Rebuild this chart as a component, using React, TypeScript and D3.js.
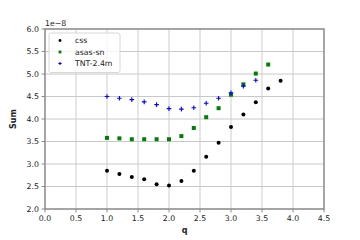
import React from "react";
import * as d3 from "d3";

const qCss = [1.0, 1.2, 1.4, 1.6, 1.8, 2.0, 2.2, 2.4, 2.6, 2.8, 3.0, 3.2, 3.4, 3.6, 3.8];
const css = [2.85, 2.78, 2.71, 2.66, 2.55, 2.52, 2.62, 2.85, 3.16, 3.47, 3.82, 4.1, 4.37, 4.68, 4.85];

const qAsas = [1.0, 1.2, 1.4, 1.6, 1.8, 2.0, 2.2, 2.4, 2.6, 2.8, 3.0, 3.2, 3.4, 3.6];
const asas = [3.58, 3.57, 3.55, 3.55, 3.55, 3.55, 3.62, 3.8, 4.04, 4.24, 4.54, 4.77, 5.01, 5.21];

const qTnt = [1.0, 1.2, 1.4, 1.6, 1.8, 2.0, 2.2, 2.4, 2.6, 2.8, 3.0, 3.2, 3.4];
const tnt = [4.5, 4.46, 4.43, 4.38, 4.32, 4.23, 4.22, 4.25, 4.35, 4.46, 4.58, 4.73, 4.86];

const xTicks = [0, 0.5, 1, 1.5, 2, 2.5, 3, 3.5, 4, 4.5];
const yTicks = [2, 2.5, 3, 3.5, 4, 4.5, 5, 5.5, 6];
const seriesNames = ["css", "asas-sn", "TNT-2.4m"];

const W = 360;
const H = 240;
const left = 45;
const right = 324;
const top = 29;
const bottom = 209;
const font = "DejaVu Sans, sans-serif";

function Marker({ kind, x, y, s = 1 }: { kind: number; x: number; y: number; s?: number }) {
  if (kind === 0) return <circle cx={x} cy={y} r={2 * s} fill="#000" />;
  if (kind === 1)
    return <rect x={x - 2 * s} y={y - 2 * s} width={4 * s} height={4 * s} fill="#008000" />;
  const h = 2.3 * s;
  return (
    <path
      d={`M${x - h},${y}H${x + h}M${x},${y - h}V${y + h}`}
      stroke="#0000ff"
      strokeWidth={1.1}
    />
  );
}

export default function App() {
  const x = d3.scaleLinear().domain([0, 4.5]).range([left, right]);
  const y = d3.scaleLinear().domain([2, 6]).range([bottom, top]);
  const fmt = d3.format(".1f");

  const series = [
    { q: qCss, v: css },
    { q: qAsas, v: asas },
    { q: qTnt, v: tnt },
  ];

  return (
    <svg
      width={W}
      height={H}
      style={{ position: "absolute", left: 0, top: 0, background: "#fff" }}
      fontFamily={font}
    >
      <rect x={0} y={0} width={W} height={H} fill="#fff" />
      {xTicks.map((t) => (
        <line key={"gx" + t} x1={x(t)} x2={x(t)} y1={top} y2={bottom} stroke="#dcdcdc" strokeWidth={1.4} />
      ))}
      {yTicks.map((t) => (
        <line key={"gy" + t} x1={left} x2={right} y1={y(t)} y2={y(t)} stroke="#c8c8c8" strokeWidth={1} />
      ))}
      {series.map((s, k) =>
        s.q.map((q, i) => <Marker key={k + "-" + i} kind={k} x={x(q)} y={y(s.v[i])} />)
      )}
      <rect
        x={left}
        y={top}
        width={right - left}
        height={bottom - top}
        fill="none"
        stroke="#8a8a8a"
        strokeWidth={1.4}
      />
      {xTicks.map((t) => (
        <g key={"tx" + t}>
          <line x1={x(t)} x2={x(t)} y1={bottom} y2={bottom + 3.5} stroke="#8a8a8a" />
          <text x={x(t)} y={bottom + 12} fontSize={7.8} textAnchor="middle" fill="#222">
            {fmt(t)}
          </text>
        </g>
      ))}
      {yTicks.map((t) => (
        <g key={"ty" + t}>
          <line x1={left - 3.5} x2={left} y1={y(t)} y2={y(t)} stroke="#8a8a8a" />
          <text x={left - 6} y={y(t) + 2.8} fontSize={7.8} textAnchor="end" fill="#222">
            {fmt(t)}
          </text>
        </g>
      ))}
      <text x={left} y={top - 3} fontSize={7.8} fill="#222">
        1e−8
      </text>
      <text x={(left + right) / 2} y={233} fontSize={8} fontWeight="bold" textAnchor="middle" fill="#222">
        q
      </text>
      <text
        transform={`translate(16,${(top + bottom) / 2}) rotate(-90)`}
        fontSize={8}
        fontWeight="bold"
        textAnchor="middle"
        fill="#222"
      >
        Sum
      </text>
      <rect
        x={49}
        y={33}
        width={71}
        height={39.5}
        rx={2}
        fill="#fff"
        fillOpacity={0.8}
        stroke="#d8d8d8"
      />
      {seriesNames.map((n, i) => (
        <g key={n}>
          <Marker kind={i} x={60} y={40.5 + i * 11.5} s={0.7} />
          <text x={75} y={43.3 + i * 11.5} fontSize={7.8} fill="#222">
            {n}
          </text>
        </g>
      ))}
    </svg>
  );
}
